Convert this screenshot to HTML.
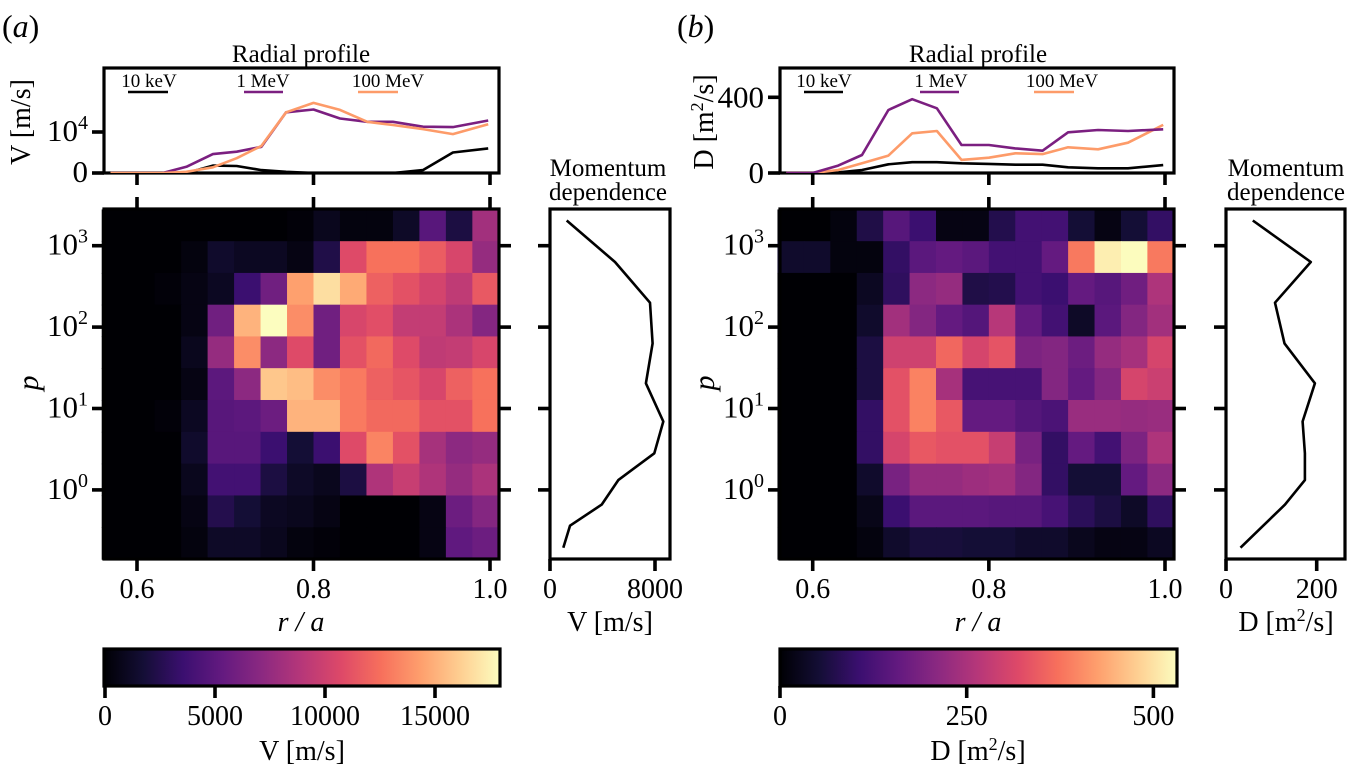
<!DOCTYPE html>
<html><head><meta charset="utf-8"><style>
html,body{margin:0;padding:0;background:#fff;}
svg{display:block;font-family:"Liberation Serif",serif;}
</style></head><body>
<svg id="fig" width="1352" height="777" viewBox="0 0 1352 777" xmlns="http://www.w3.org/2000/svg">
<defs>
<clipPath id="clipTopA"><rect x="104" y="68" width="395" height="105"/></clipPath>
<clipPath id="clipTopB"><rect x="780" y="68" width="394" height="105"/></clipPath>
<linearGradient id="magmaGrad" x1="0" x2="1" y1="0" y2="0">
<stop offset="0" stop-color="#000004"/><stop offset="0.1" stop-color="#140e36"/><stop offset="0.2" stop-color="#3b0f70"/><stop offset="0.3" stop-color="#641a80"/><stop offset="0.4" stop-color="#8c2981"/><stop offset="0.5" stop-color="#b73779"/><stop offset="0.6" stop-color="#de4968"/><stop offset="0.7" stop-color="#f7705c"/><stop offset="0.8" stop-color="#fe9f6d"/><stop offset="0.9" stop-color="#fecf92"/><stop offset="1" stop-color="#fcfdbf"/>
</linearGradient>
</defs>

<text x="2" y="37" font-size="32">(<tspan font-style="italic">a</tspan>)</text>
<text x="677" y="37" font-size="32">(<tspan font-style="italic">b</tspan>)</text>

<text x="301" y="62" font-size="25" text-anchor="middle">Radial profile</text>
<text x="978" y="62" font-size="25" text-anchor="middle">Radial profile</text>
<text x="608" y="176" font-size="25" text-anchor="middle">Momentum</text>
<text x="608" y="200" font-size="25" text-anchor="middle">dependence</text>
<text x="1286" y="176" font-size="25" text-anchor="middle">Momentum</text>
<text x="1286" y="200" font-size="25" text-anchor="middle">dependence</text>

<text transform="translate(30,122) rotate(-90)" font-size="28" text-anchor="middle">V [m/s]</text>
<text transform="translate(713,122) rotate(-90)" font-size="28" text-anchor="middle">D [m<tspan dy="-10" font-size="18">2</tspan><tspan dy="10">/s]</tspan></text>
<text transform="translate(38,383) rotate(-90)" font-size="30" font-style="italic" text-anchor="middle">p</text>
<text transform="translate(714,383) rotate(-90)" font-size="30" font-style="italic" text-anchor="middle">p</text>

<text x="301" y="631" font-size="28" font-style="italic" text-anchor="middle">r / a</text>
<text x="978" y="631" font-size="28" font-style="italic" text-anchor="middle">r / a</text>
<text x="610" y="631" font-size="28" text-anchor="middle">V [m/s]</text>
<text x="1286" y="631" font-size="28" text-anchor="middle">D [m<tspan dy="-10" font-size="18">2</tspan><tspan dy="10">/s]</tspan></text>
<text x="302" y="760" font-size="28" text-anchor="middle">V [m/s]</text>
<text x="978" y="760" font-size="28" text-anchor="middle">D [m<tspan dy="-10" font-size="18">2</tspan><tspan dy="10">/s]</tspan></text>

<g id="plots"></g>
</svg>
<script>
// ---------- data ----------
const rCenters = [0.575,0.605,0.635,0.665,0.695,0.725,0.755,0.785,0.815,0.845,0.875,0.905,0.935,0.965,0.995];
const rowLogP = [3.25,2.86,2.47,2.08,1.69,1.30,0.909,0.518,0.127,-0.264,-0.655];
const heatV = [
[0,0,0,0,0,0,0,180,900,360,360,1260,4860,2160,8100],
[0,0,0,360,1440,1080,1080,540,2340,10800,12600,12600,11700,10440,7560],
[0,0,180,540,1080,3600,5940,14400,16740,14760,11880,11160,10260,9360,11520],
[0,0,0,540,5940,15120,18000,13680,5940,10440,10980,9540,9540,8460,6840],
[0,0,0,900,7560,13680,7200,10800,5940,11160,12240,10800,9360,9540,10440],
[0,0,0,540,5040,7200,15840,15480,13680,12960,11880,11340,10440,11880,12600],
[0,0,180,1080,4860,5040,5760,15120,15120,12960,12240,12240,11160,11160,12600],
[0,0,0,1440,4860,4860,3600,1800,3600,10800,13320,11160,8280,7200,7560],
[0,0,0,900,3960,3960,2160,1260,900,2160,8640,9720,8640,7560,8460],
[0,0,0,540,2520,1800,1080,900,540,0,0,0,540,5760,6840],
[0,0,0,360,1260,1260,900,360,180,0,0,0,540,5220,5760]];
const heatD = [
[0,0,11,69,143,106,16,16,74,117,117,53,16,53,95],
[42,42,11,11,95,148,159,148,117,117,159,382,514,530,382],
[0,0,0,32,90,212,223,69,74,117,106,159,143,175,254],
[0,0,0,42,239,201,159,138,265,159,117,37,148,201,239],
[0,0,0,64,297,297,360,307,334,191,201,170,223,244,307],
[0,0,0,64,329,392,244,122,122,122,201,159,201,307,292],
[0,0,0,95,329,392,339,159,159,138,127,228,228,223,228],
[0,0,0,95,307,339,329,329,286,186,95,159,117,191,254],
[0,0,0,42,186,223,223,233,239,201,95,53,53,159,212],
[0,0,0,21,106,148,148,148,143,143,122,85,64,37,90],
[0,0,0,11,42,58,58,53,53,42,42,27,16,16,32]];
const vmaxV = 17950;
const vmaxD = 531;
// radial profiles
const rProf = [0.57,0.60,0.629,0.656,0.686,0.713,0.741,0.769,0.80,0.830,0.861,0.890,0.924,0.958,0.998];
const radV10keV  = [0,0,0,0,1800,1700,700,300,0,0,0,0,700,5000,6000];
const radV1MeV   = [0,0,0,1500,4600,5200,6400,14800,15500,13300,12500,12500,11300,11200,12800];
const radV100MeV = [0,0,0,300,1400,3600,6600,14800,17100,15400,12500,11700,10700,9500,11900];
const radD10keV  = [0,0,3,16,46,57,57,51,48,44,44,30,25,25,42];
const radD1MeV   = [0,0,39,95,333,390,342,148,148,130,118,215,227,222,231];
const radD100MeV = [0,0,16,51,92,210,222,69,81,104,100,136,125,160,254];
// momentum dependence
const sideLogP = [3.31,2.80,2.30,1.80,1.31,0.84,0.45,0.12,-0.18,-0.44,-0.71];
const sideV = [1270,4950,7620,7820,7310,8630,7950,5200,3940,1520,1010];
const sideD = [59,187,108,129,196,169,174,174,130,82,32];
// ticks
const rTicks = [0.6,0.8,1.0];
const rTickLabels = ["0.6","0.8","1.0"];
const pTicks = [3,2,1,0];
const cbTicksA = [0,5000,10000,15000];
const cbTicksB = [0,250,500];

// ---------- helpers ----------
const NS = "http://www.w3.org/2000/svg";
const root = document.getElementById('plots');
function mk(tag, attrs, parent){
  const el = document.createElementNS(NS, tag);
  for (const k in attrs) el.setAttribute(k, attrs[k]);
  (parent||root).appendChild(el);
  return el;
}
const stops = [[0,0,0,4],[0.1,20,14,54],[0.2,59,15,112],[0.3,100,26,128],[0.4,140,41,129],[0.5,183,55,121],[0.6,222,73,104],[0.7,247,112,92],[0.8,254,159,109],[0.9,254,207,146],[1,252,253,191]];
function magma(t){
  t = Math.max(0, Math.min(1, t));
  for (let i=1;i<stops.length;i++){
    if (t <= stops[i][0]){
      const a = stops[i-1], b = stops[i], f = (t-a[0])/(b[0]-a[0]);
      return `rgb(${Math.round(a[1]+f*(b[1]-a[1]))},${Math.round(a[2]+f*(b[2]-a[2]))},${Math.round(a[3]+f*(b[3]-a[3]))})`;
    }
  }
  return 'rgb(252,253,191)';
}
function makeR(x06, x10){ return r => x06 + (r-0.6)*(x10-x06)/0.4; }
const xRA = makeR(137, 490);
const xRB = makeR(812.7, 1165);
const yP = lp => 245.7 - (lp-3)*81.4;
const yTopA = v => 173 - v*41/10000;
const yTopB = v => 173 - v*75.7/400;
const xSideA = v => 550 + v*105/8000;
const xSideB = v => 1226 + v*90.7/200;
const xCbA = v => 105 + v*110/5000;
const xCbB = v => 780 + v*186.7/250;
const halfCell = 0.015, halfRow = 0.1955;

function heatmap(data, vmax, xR, name){
  const g = mk('g', {});
  
  
  for (let i=0;i<rowLogP.length;i++){
    for (let j=0;j<rCenters.length;j++){
      const x0 = xR(rCenters[j]-halfCell), x1 = xR(rCenters[j]+halfCell);
      const y0 = yP(rowLogP[i]+halfRow), y1 = yP(rowLogP[i]-halfRow);
      const c = mk('rect', {x:x0, y:y0, width:x1-x0+0.6, height:y1-y0+0.6, fill:magma(data[i][j]/vmax)}, g);
      
      
    }
  }
}
function line(xs, ys, fx, fy, color, name, clip){
  const pts = xs.map((x,i)=>fx(x).toFixed(1)+','+fy(ys[i]).toFixed(1)).join(' ');
  const attrs = {points:pts, fill:'none', stroke:color, 'stroke-width':2.6, 'stroke-linejoin':'round'};
  if (clip) attrs['clip-path'] = clip;
  const el = mk('polyline', attrs);
  
  
}
function frame(x,y,w,h,name){
  const el = mk('rect', {x:x, y:y, width:w, height:h, fill:'none', stroke:'#000', 'stroke-width':3.2});
  
  
}
function tick(x1,y1,x2,y2){
  const el = mk('line', {x1:x1,y1:y1,x2:x2,y2:y2,stroke:'#000','stroke-width':3.6});
  
  
}
function label(x,y,txt,size,anchor,name){
  const el = mk('text', {x:x,y:y,'font-size':size,'text-anchor':anchor||'middle'});
  el.textContent = txt;
  
  
  return el;
}
function powLabel(x,y,base,exp,name){
  const el = mk('text', {x:x,y:y,'font-size':31,'text-anchor':'end'});
  
  
  const t1 = mk('tspan', {}, el); t1.textContent = base;
  const t2 = mk('tspan', {dy:-12,'font-size':20}, el); t2.textContent = exp;
}

// ---------- panel (a) ----------
heatmap(heatV, vmaxV, xRA, 'heatmap-a');
frame(104, 209, 395, 350, 'heatmap-a-frame');
frame(104, 68, 395, 105, 'top-profile-a-frame');
frame(550, 209, 120, 350, 'side-profile-a-frame');
line(rProf, radV10keV, xRA, yTopA, '#000000', 'line-10kev-a', 'url(#clipTopA)');
line(rProf, radV1MeV, xRA, yTopA, '#7b1f80', 'line-1mev-a', 'url(#clipTopA)');
line(rProf, radV100MeV, xRA, yTopA, '#fd9b69', 'line-100mev-a', 'url(#clipTopA)');
line(sideV, sideLogP, xSideA, yP, '#000000', 'momentum-line-a');
rTicks.forEach((r,i)=>{
  tick(xRA(r),173,xRA(r),185); tick(xRA(r),197,xRA(r),209); tick(xRA(r),559,xRA(r),571);
  label(xRA(r),598,rTickLabels[i],28,'middle','x-tick-label-a');
});
pTicks.forEach(p=>{
  tick(92,yP(p),104,yP(p)); tick(499,yP(p),511,yP(p)); tick(538,yP(p),550,yP(p));
  powLabel(88,yP(p)+9,'10',String(p),'y-tick-label-a');
});
tick(92,yTopA(0),104,yTopA(0)); tick(92,yTopA(10000),104,yTopA(10000));
label(88,yTopA(0)+9,'0',31,'end','top-a-y-tick-0');
powLabel(88,yTopA(10000)+9,'10','4','top-a-y-tick-1e4');
[0,8000].forEach(v=>{ tick(xSideA(v),559,xSideA(v),571); label(xSideA(v),598,String(v),28,'middle','side-a-x-tick-label'); });
label(149,87,'10 keV',19,'middle','legend-10kev-a');
label(263,87,'1 MeV',19,'middle','legend-1mev-a');
label(388,87,'100 MeV',19,'middle','legend-100mev-a');
[[128,168,'#000000'],[244,283,'#7b1f80'],[358,398,'#fd9b69']].forEach(s=>{
  const el = mk('line',{x1:s[0],x2:s[1],y1:92,y2:92,stroke:s[2],'stroke-width':2.6});
  
  
});
const cbA = mk('rect',{x:104,y:649,width:396,height:37,fill:'url(#magmaGrad)',stroke:'#000','stroke-width':3.2});


cbTicksA.forEach(v=>{ tick(xCbA(v),686,xCbA(v),698); label(xCbA(v),725,String(v),28,'middle','colorbar-a-tick-label'); });

// ---------- panel (b) ----------
heatmap(heatD, vmaxD, xRB, 'heatmap-b');
frame(780, 209, 394, 350, 'heatmap-b-frame');
frame(780, 68, 394, 105, 'top-profile-b-frame');
frame(1226, 209, 119, 350, 'side-profile-b-frame');
line(rProf, radD10keV, xRB, yTopB, '#000000', 'line-10kev-b', 'url(#clipTopB)');
line(rProf, radD100MeV, xRB, yTopB, '#fd9b69', 'line-100mev-b', 'url(#clipTopB)');
line(rProf, radD1MeV, xRB, yTopB, '#7b1f80', 'line-1mev-b', 'url(#clipTopB)');
line(sideD, sideLogP, xSideB, yP, '#000000', 'momentum-line-b');
rTicks.forEach((r,i)=>{
  tick(xRB(r),173,xRB(r),185); tick(xRB(r),197,xRB(r),209); tick(xRB(r),559,xRB(r),571);
  label(xRB(r),598,rTickLabels[i],28,'middle','x-tick-label-b');
});
pTicks.forEach(p=>{
  tick(768,yP(p),780,yP(p)); tick(1174,yP(p),1186,yP(p)); tick(1214,yP(p),1226,yP(p));
  powLabel(764,yP(p)+9,'10',String(p),'y-tick-label-b');
});
tick(768,yTopB(0),780,yTopB(0)); tick(768,yTopB(400),780,yTopB(400));
label(764,yTopB(0)+10,'0',31,'end','top-b-y-tick-0');
label(764,yTopB(400)+10,'400',31,'end','top-b-y-tick-400');
[0,200].forEach(v=>{ tick(xSideB(v),559,xSideB(v),571); label(xSideB(v),598,String(v),28,'middle','side-b-x-tick-label'); });
label(824,87,'10 keV',19,'middle','legend-10kev-b');
label(941,87,'1 MeV',19,'middle','legend-1mev-b');
label(1062,87,'100 MeV',19,'middle','legend-100mev-b');
[[804,843,'#000000'],[920,959,'#7b1f80'],[1034,1074,'#fd9b69']].forEach(s=>{
  const el = mk('line',{x1:s[0],x2:s[1],y1:92,y2:92,stroke:s[2],'stroke-width':2.6});
  
  
});
const cbB = mk('rect',{x:780,y:649,width:397,height:37,fill:'url(#magmaGrad)',stroke:'#000','stroke-width':3.2});


cbTicksB.forEach(v=>{ tick(xCbB(v),686,xCbB(v),698); label(xCbB(v),725,String(v),28,'middle','colorbar-b-tick-label'); });
</script>
</body></html>
